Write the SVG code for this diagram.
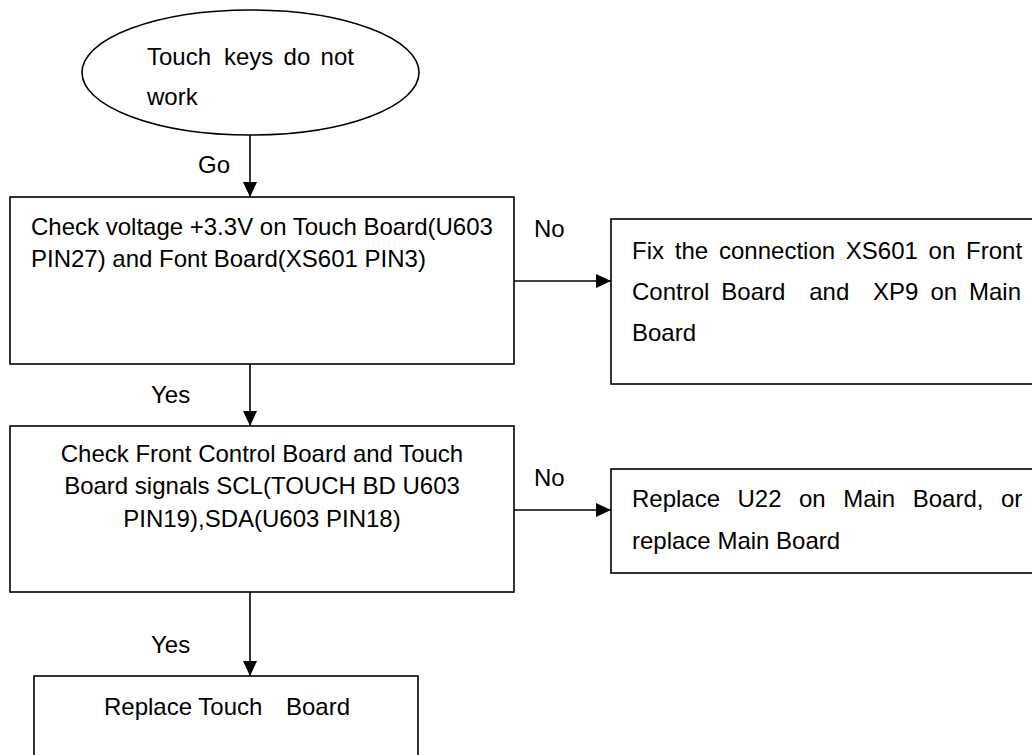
<svg xmlns="http://www.w3.org/2000/svg" width="1032" height="755" viewBox="0 0 1032 755">
<style>
.shape{fill:#fff;stroke:#000;stroke-width:1.6}
.t{font-family:"Liberation Sans",Arial,sans-serif;font-size:24px;fill:#000}
.c{text-anchor:middle}
.conn{stroke:#000;stroke-width:1.6;fill:none}
</style>
<defs>
<marker id="arr" markerWidth="15" markerHeight="14" refX="15" refY="7" orient="auto" markerUnits="userSpaceOnUse">
<path d="M0,0 L15,7 L0,14 Z" fill="#000"/>
</marker>
</defs>
<rect width="1032" height="755" fill="#fff"/>
<g id="connectors">
<line class="conn" x1="250" y1="135" x2="250" y2="197" marker-end="url(#arr)"/>
<line class="conn" x1="250" y1="364" x2="250" y2="426" marker-end="url(#arr)"/>
<line class="conn" x1="250" y1="592" x2="250" y2="676" marker-end="url(#arr)"/>
<line class="conn" x1="514" y1="281" x2="611" y2="281" marker-end="url(#arr)"/>
<line class="conn" x1="514" y1="510" x2="611" y2="510" marker-end="url(#arr)"/>
<text class="t" x="198" y="173">Go</text>
<text class="t" x="151" y="403">Yes</text>
<text class="t" x="151" y="653">Yes</text>
<text class="t" x="534" y="237">No</text>
<text class="t" x="534" y="486">No</text>
</g>
<g id="start">
<ellipse class="shape" cx="250.5" cy="72.5" rx="168.5" ry="62.5"/>
<text class="t" y="65"><tspan x="147">Touch</tspan><tspan x="224">keys</tspan><tspan x="283.6">do</tspan><tspan x="320.6">not</tspan></text>
<text class="t" x="147" y="105">work</text>
</g>
<g id="check-voltage">
<rect class="shape" x="10" y="197" width="504" height="167"/>
<text class="t" x="31" y="235">Check voltage +3.3V on Touch Board(U603</text>
<text class="t" x="31" y="267">PIN27) and Font Board(XS601 PIN3)</text>
</g>
<g id="fix-connection">
<rect class="shape" x="611" y="219" width="440" height="165"/>
<text class="t" y="259"><tspan x="632">Fix</tspan><tspan x="674.8">the</tspan><tspan x="719">connection</tspan><tspan x="845.8">XS601</tspan><tspan x="928.6">on</tspan><tspan x="966.1">Front</tspan></text>
<text class="t" y="300"><tspan x="632">Control</tspan><tspan x="721.3">Board</tspan><tspan x="809.2">and</tspan><tspan x="873.1">XP9</tspan><tspan x="930.4">on</tspan><tspan x="969">Main</tspan></text>
<text class="t" x="632" y="341">Board</text>
</g>
<g id="check-signals">
<rect class="shape" x="10" y="426" width="504" height="166"/>
<text class="t c" x="262" y="462">Check Front Control Board and Touch</text>
<text class="t c" x="262" y="494">Board signals SCL(TOUCH BD U603</text>
<text class="t c" x="262" y="527">PIN19),SDA(U603 PIN18)</text>
</g>
<g id="replace-u22">
<rect class="shape" x="611" y="469" width="440" height="104"/>
<text class="t" y="507"><tspan x="632">Replace</tspan><tspan x="737.5">U22</tspan><tspan x="799">on</tspan><tspan x="843.2">Main</tspan><tspan x="912.7">Board,</tspan><tspan x="1000.9">or</tspan></text>
<text class="t" x="632" y="549">replace Main Board</text>
</g>
<g id="replace-touch">
<rect class="shape" x="34" y="676" width="384" height="100"/>
<text class="t" y="715"><tspan x="104">Replace Touch</tspan><tspan x="286">Board</tspan></text>
</g>
</svg>
